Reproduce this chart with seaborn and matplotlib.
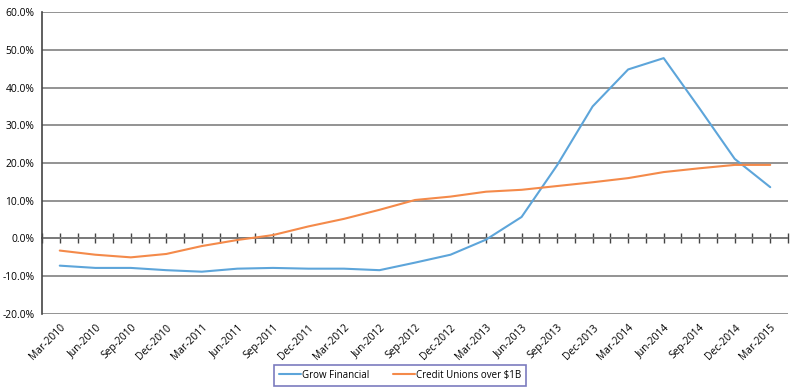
import pandas as pd
import matplotlib.pyplot as plt
import seaborn as sns
from matplotlib.ticker import MultipleLocator, FuncFormatter

quarters = ["Mar-2010", "Jun-2010", "Sep-2010", "Dec-2010", "Mar-2011", "Jun-2011",
            "Sep-2011", "Dec-2011", "Mar-2012", "Jun-2012", "Sep-2012", "Dec-2012",
            "Mar-2013", "Jun-2013", "Sep-2013", "Dec-2013", "Mar-2014", "Jun-2014",
            "Sep-2014", "Dec-2014", "Mar-2015"]
grow_financial = [-7.2, -7.8, -7.8, -8.4, -8.8, -8.0, -7.8, -8.0, -8.0, -8.4, -6.4,
                  -4.3, -0.3, 5.7, 19.4, 35.0, 44.8, 47.8, 34.6, 21.1, 13.6]
cu_over_1b = [-3.2, -4.3, -5.0, -4.1, -2.0, -0.4, 0.9, 3.2, 5.2, 7.6, 10.2, 11.1,
              12.4, 12.9, 13.9, 14.9, 16.0, 17.6, 18.6, 19.5, 19.5]
series_names = ["Grow Financial", "Credit Unions over $1B"]

df = pd.DataFrame({
    "quarter": quarters * 2,
    "growth": grow_financial + cu_over_1b,
    "series": [series_names[0]] * len(quarters) + [series_names[1]] * len(quarters),
})

sns.set_style("white")
plt.rcParams["font.family"] = ["Open Sans", "DejaVu Sans"]
plt.rcParams["axes.unicode_minus"] = False

fig = plt.figure(figsize=(8, 3.9), dpi=100)
ax = fig.add_axes([0.0525, 0.195, 0.9325, 0.774])

sns.lineplot(data=df, x="quarter", y="growth", hue="series", sort=False,
             palette=["#5DA5DA", "#F48A4A"], linewidth=1.5, ax=ax)

ax.set_xlim(-0.5, len(quarters) - 0.5)
ax.set_ylim(-20, 60)
ax.yaxis.set_major_locator(MultipleLocator(10))
ax.yaxis.set_minor_locator(MultipleLocator(2))
ax.yaxis.set_major_formatter(FuncFormatter(lambda v, pos: "%.1f%%" % v))
ax.grid(axis="y", which="major", color="#808080", linewidth=1.2)
ax.set_axisbelow(True)

for side in ["top", "right", "bottom"]:
    ax.spines[side].set_visible(False)
ax.spines["left"].set_color("#444444")
ax.spines["left"].set_linewidth(1.2)
ax.tick_params(axis="y", which="both", direction="inout", color="#444444",
               labelsize=7.4, labelcolor="black", pad=2)
ax.tick_params(axis="y", which="major", length=7, width=1)
ax.tick_params(axis="y", which="minor", length=5, width=1)

ax.set_xticks(range(len(quarters)))
ax.set_xticklabels(quarters, rotation=45, ha="right", rotation_mode="anchor")
ax.tick_params(axis="x", length=0, labelsize=7.4, labelcolor="black", pad=6)
ax.set_xlabel("")
ax.set_ylabel("")

# zero line carrying the category tick marks
zero_axis = ax.secondary_xaxis(0.25)
zero_axis.spines["bottom"].set_color("#444444")
zero_axis.spines["bottom"].set_linewidth(1.2)
zero_axis.set_xticks([i * 0.5 - 0.5 for i in range(2 * len(quarters) + 1)])
zero_axis.tick_params(direction="inout", length=7, width=1, color="#444444",
                      labelbottom=False)

handles = ax.get_legend_handles_labels()[0]
ax.get_legend().remove()
leg = fig.legend(handles=handles, labels=series_names,
                 loc="center", bbox_to_anchor=(0.5, 0.038), ncol=2, fontsize=7,
                 labelcolor="black", frameon=True, fancybox=False, edgecolor="#5A5AAE",
                 handlelength=2.3, handletextpad=0.1, columnspacing=2.4, borderpad=0.5)
leg.get_frame().set_linewidth(1.2)

fig.savefig("out.png", dpi=100)
